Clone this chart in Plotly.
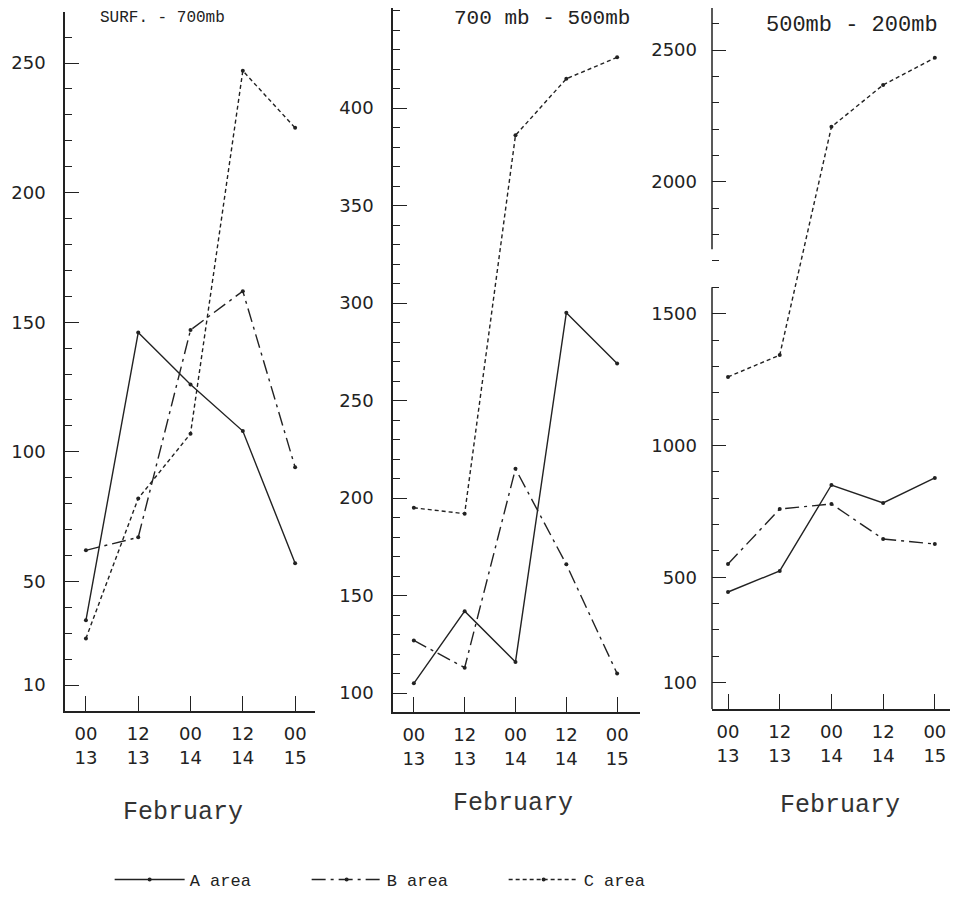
import plotly.graph_objects as go

# ---- data ----
times = ["00<br>13", "12<br>13", "00<br>14", "12<br>14", "00<br>15"]
panel_titles = ["SURF. - 700mb", "700 mb - 500mb", "500mb - 200mb"]
series_names = ["A area", "B area", "C area"]

surf_a = [35, 146, 126, 108, 57]
surf_b = [62, 67, 147, 162, 94]
surf_c = [28, 82, 107, 247, 225]

mid_a = [105, 142, 116, 295, 269]
mid_b = [127, 113, 215, 166, 110]
mid_c = [195, 192, 386, 415, 426]

up_a = [444, 524, 850, 782, 877]
up_b = [550, 759, 778, 645, 626]
up_c = [1260, 1343, 2209, 2368, 2471]

yticks_surf = [10, 50, 100, 150, 200, 250]
yticks_mid = [100, 150, 200, 250, 300, 350, 400]
yticks_up = [100, 500, 1000, 1500, 2000, 2500]

# ---- page geometry (page body has an 8px margin) ----
W, H, OFF = 950, 893, 8


def px(x):
    return (x - OFF) / W


def py(y):
    return 1 - (y - OFF) / H


# ---- styling ----
INK = "#222222"
NUM_FONT = dict(family="DejaVu Sans", size=18, color=INK)
MONO = "Liberation Mono"
dashes = ["solid", "14px,5px,3px,5px", "4px,3px"]

panels = [
    (surf_a, surf_b, surf_c),
    (mid_a, mid_b, mid_c),
    (up_a, up_b, up_c),
]

fig = go.Figure()
for p, vals in enumerate(panels):
    xa = "x" if p == 0 else f"x{p+1}"
    ya = "y" if p == 0 else f"y{p+1}"
    for s, v in enumerate(vals):
        fig.add_trace(go.Scatter(
            x=times, y=v, xaxis=xa, yaxis=ya,
            mode="lines+markers",
            name=series_names[s], legendgroup=series_names[s],
            showlegend=(p == 0),
            line=dict(color=INK, width=1.4, dash=dashes[s]),
            marker=dict(color=INK, size=4),
        ))

xdomains = [[px(65), px(315)], [px(393), px(640)], [px(712), px(955)]]
xranges = [[-0.40, 4.38], [-0.41, 4.45], [-0.31, 4.39]]
ydomains = [[py(711), py(12)], [py(712), py(8)], [py(709), py(8)]]
yranges = [[0, 269.7], [90.3, 451.3], [0, 2660]]
yticks = [yticks_surf, yticks_mid, yticks_up]
minor_dt = [10, 10, 100]

layout = dict(
    width=W, height=H, autosize=False,
    margin=dict(l=0, r=0, t=0, b=0, pad=0, autoexpand=False),
    paper_bgcolor="white", plot_bgcolor="white",
    showlegend=True,
    legend=dict(orientation="h", x=0.107, y=py(880), xanchor="left", yanchor="middle",
                font=dict(family=MONO, size=17, color=INK),
                itemwidth=70, entrywidth=112, bgcolor="rgba(0,0,0,0)"),
)
for p in range(3):
    xk = "xaxis" if p == 0 else f"xaxis{p+1}"
    yk = "yaxis" if p == 0 else f"yaxis{p+1}"
    ya = "y" if p == 0 else f"y{p+1}"
    xa = "x" if p == 0 else f"x{p+1}"
    layout[xk] = dict(
        domain=xdomains[p], range=xranges[p], type="category", anchor=ya,
        showline=True, linecolor=INK, linewidth=1.5,
        ticks="inside", ticklen=15, tickwidth=1.3, tickcolor=INK,
        showgrid=False, zeroline=False, tickfont=NUM_FONT,
        ticklabelstandoff=6, automargin=False,
    )
    layout[yk] = dict(
        domain=ydomains[p], range=yranges[p], anchor=xa,
        showline=(p != 2), linecolor=INK, linewidth=1.5,
        tickmode="array", tickvals=yticks[p],
        ticks="inside", ticklen=14, tickwidth=1.3, tickcolor=INK,
        minor=dict(tickmode="linear", tick0=0, dtick=minor_dt[p], ticks="inside",
                   ticklen=7, tickwidth=1, tickcolor=INK),
        showgrid=False, zeroline=False, tickfont=NUM_FONT,
        ticklabelstandoff=14, automargin=False,
    )
fig.update_layout(**layout)

# broken y axis of the third panel
fig.add_shape(type="line", xref="x3 domain", yref="y3", x0=0, x1=0, y0=0, y1=1600,
              line=dict(color=INK, width=1.5))
fig.add_shape(type="line", xref="x3 domain", yref="y3", x0=0, x1=0, y0=1745, y1=2660,
              line=dict(color=INK, width=1.5))

# panel titles
title_pos = [(162, 18, 16), (542, 18, 21), (852, 25, 22)]
for t, (x, y, sz) in zip(panel_titles, title_pos):
    fig.add_annotation(text=t, x=px(x), y=py(y), xref="paper", yref="paper", showarrow=False,
                       font=dict(family=MONO, size=sz, color=INK), xanchor="center", yanchor="middle")

# February labels
feb_pos = [(183, 812), (513, 803), (840, 805)]
for x, y in feb_pos:
    fig.add_annotation(text="February", x=px(x), y=py(y), xref="paper", yref="paper", showarrow=False,
                       font=dict(family=MONO, size=25, color="#333333"), xanchor="center", yanchor="middle")

fig.write_html("out.html")
